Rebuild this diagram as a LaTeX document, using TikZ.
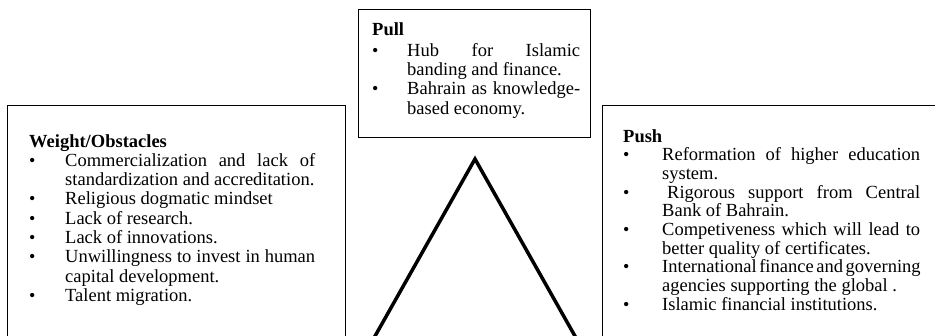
\documentclass[tikz,border=0pt]{standalone}
\usepackage{fontspec}
\setmainfont{Liberation Serif}
\usepackage{enumitem}
\usepackage{tikz}

\newcommand{\smbul}{{\fontsize{18}{18}\selectfont\textbullet}}
\newlist{factors}{itemize}{1}
\setlist[factors]{label=\smbul,leftmargin=36pt,labelwidth=36pt,labelsep=0pt,align=left,
  itemsep=0pt,topsep=0pt,parsep=0pt,partopsep=0pt}
\hfuzz=20pt
\hbadness=10000
\hyphenpenalty=10000

\begin{document}
\begin{tikzpicture}[x=1pt,y=-1pt]
\useasboundingbox (0,0) rectangle (935,336);
\clip (0,0) rectangle (935,336);

\begin{scope}[every node/.style={anchor=north west,inner sep=0pt,align=justify,
              font=\fontsize{18.5}{19.3}\selectfont}]
    \node[text width=286pt] (weight) at (29,134) {\textbf{Weight/Obstacles}
      \begin{factors}[leftmargin=36pt,labelwidth=36pt]
      \item Commercialization and lack of\linebreak standardization and accreditation.
      \item Religious dogmatic mindset
      \item Lack of research.
      \item Lack of innovations.
      \item Unwillingness to invest in human\linebreak capital development.
      \item Talent migration.
      \end{factors}};
    \node[text width=208pt] (pull) at (372,22) {\textbf{Pull}\par\vspace{2pt}
      \begin{factors}[leftmargin=35pt,labelwidth=35pt]
      \item Hub for Islamic\linebreak banding and finance.
      \item Bahrain as knowledge-\linebreak based economy.
      \end{factors}};
    \node[text width=297pt,font=\fontsize{18.5}{18.7}\selectfont] (push) at (623,129) {\textbf{Push}
      \begin{factors}[leftmargin=39pt,labelwidth=39pt]
      \item Reformation of higher education\linebreak system.
      \item \hspace*{5pt}Rigorous support from Central\linebreak Bank of Bahrain.
      \item Competiveness which will lead to\linebreak better quality of certificates.
      \item \mbox{\spaceskip=0.14em International finance and governing}\linebreak agencies supporting the global~.
      \item Islamic financial institutions.
      \end{factors}};
\end{scope}

\begin{scope}[line width=1pt]
    \draw (7,106) rectangle (345,345);
    \draw (358,10) rectangle (590,138);
    \draw (602,106) rectangle (945,345);
\end{scope}

\coordinate (apex) at (475,159);
\coordinate (footL) at (370,345);
\coordinate (footR) at (580,345);
\draw[line width=3.5pt,line join=miter] (footL) -- (apex) -- (footR);

\end{tikzpicture}
\end{document}
